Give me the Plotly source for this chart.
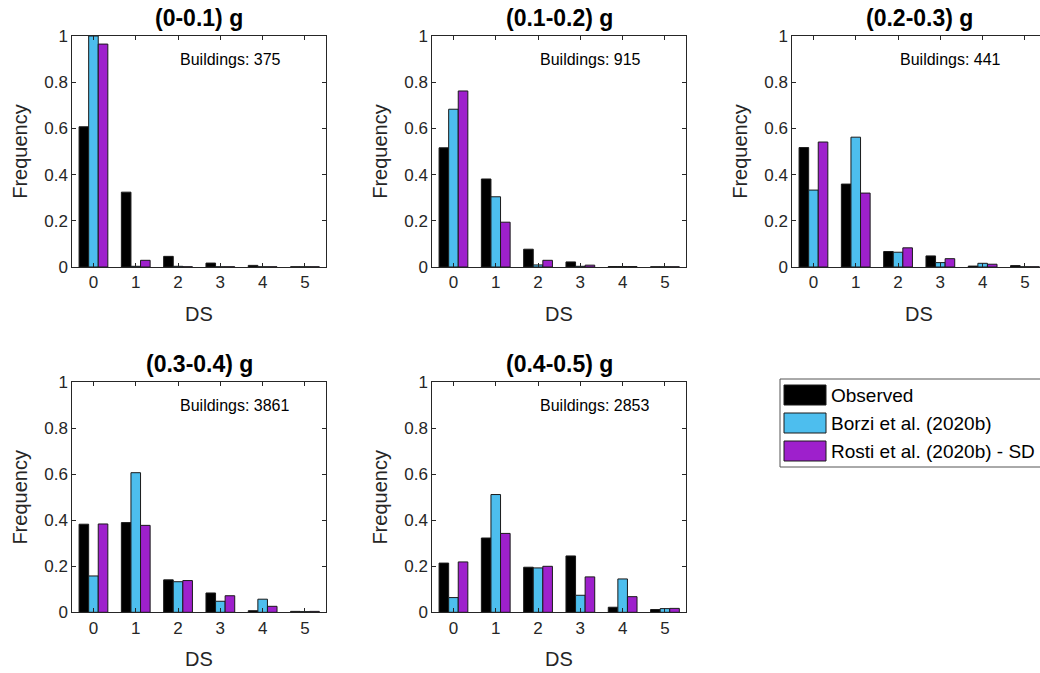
import plotly.graph_objects as go

# ---------------- data ----------------
ds_levels = [0, 1, 2, 3, 4, 5]
series_names = ["Observed", "Borzi et al. (2020b)", "Rosti et al. (2020b) - SD"]
series_colors = ["#000000", "#4DBEEE", "#9E20CC"]
panel_titles = ["(0-0.1) g", "(0.1-0.2) g", "(0.2-0.3) g", "(0.3-0.4) g", "(0.4-0.5) g"]
building_counts = [375, 915, 441, 3861, 2853]
y_ticks = [0, 0.2, 0.4, 0.6, 0.8, 1]
y_tick_labels = ["0", "0.2", "0.4", "0.6", "0.8", "1"]

observed = [
    [0.607, 0.324, 0.046, 0.017, 0.007, 0.001],
    [0.516, 0.381, 0.077, 0.022, 0.002, 0.001],
    [0.517, 0.359, 0.067, 0.048, 0.004, 0.006],
    [0.383, 0.390, 0.141, 0.084, 0.007, 0.004],
    [0.214, 0.323, 0.196, 0.245, 0.022, 0.012],
]
borzi = [
    [1.000, 0.003, 0.003, 0.001, 0.001, 0.001],
    [0.683, 0.304, 0.009, 0.003, 0.002, 0.001],
    [0.333, 0.562, 0.064, 0.019, 0.016, 0.001],
    [0.158, 0.607, 0.133, 0.048, 0.057, 0.003],
    [0.064, 0.512, 0.193, 0.074, 0.145, 0.016],
]
rosti = [
    [0.965, 0.029, 0.001, 0.001, 0.001, 0.001],
    [0.762, 0.194, 0.029, 0.008, 0.002, 0.001],
    [0.541, 0.320, 0.083, 0.036, 0.012, 0.001],
    [0.384, 0.378, 0.138, 0.072, 0.026, 0.004],
    [0.219, 0.343, 0.200, 0.154, 0.068, 0.017],
]
series_values = [observed, borzi, rosti]

# ---------------- layout geometry (pixels) ----------------
W, H = 1040, 673
PX_PER_UNIT = 42.3
AX_W = 6 * PX_PER_UNIT
col_left = [72.3, 432.3, 792.3]
row_top = [36.0, 382.3]
row_bot = [267.0, 612.3]
panel_pos = [(0, 0), (0, 1), (0, 2), (1, 0), (1, 1)]

FONT = "Liberation Sans, Arial, Helvetica, sans-serif"
AX_COLOR = "#262626"


def px(x):
    return x / W


def py(y):
    return 1 - y / H


fig = go.Figure()
layout_axes = {}
annotations = []
shapes = []

for i, (r, c) in enumerate(panel_pos):
    k = "" if i == 0 else str(i + 1)
    L = col_left[c]
    R = min(L + AX_W, W)
    for s in range(3):
        fig.add_trace(go.Bar(
            x=ds_levels, y=series_values[s][i], name=series_names[s],
            marker=dict(color=series_colors[s], line=dict(color="#1a1a1a", width=1)),
            xaxis="x" + k, yaxis="y" + k, showlegend=False,
        ))
    visible_right = (L + AX_W) <= W
    layout_axes["xaxis" + k] = dict(
        domain=[px(L), px(R)], anchor="y" + k, automargin=False,
        range=[-0.5, -0.5 + (R - L) / PX_PER_UNIT],
        tickvals=ds_levels, ticktext=[str(v) for v in ds_levels],
        ticks="inside", ticklen=4, tickcolor=AX_COLOR,
        showline=True, linecolor=AX_COLOR, linewidth=1, mirror="ticks",
        showgrid=False, zeroline=False, fixedrange=True,
        tickfont=dict(family=FONT, size=17, color=AX_COLOR),
    )
    layout_axes["yaxis" + k] = dict(
        domain=[py(row_bot[r]), py(row_top[r])], anchor="x" + k, automargin=False,
        range=[0, 1], tickvals=y_ticks, ticktext=y_tick_labels,
        ticks="inside", ticklen=4, tickcolor=AX_COLOR,
        showline=True, linecolor=AX_COLOR, linewidth=1,
        mirror="ticks" if visible_right else False,
        showgrid=False, zeroline=False, fixedrange=True,
        tickfont=dict(family=FONT, size=17, color=AX_COLOR),
    )
    cx = (L + L + AX_W) / 2
    # panel title
    annotations.append(dict(
        text="<b>" + panel_titles[i] + "</b>", xref="paper", yref="paper",
        x=px(cx), y=py(row_top[r] - 18), xanchor="center", yanchor="middle",
        showarrow=False, font=dict(family=FONT, size=23, color="#000000"),
    ))
    # x label
    annotations.append(dict(
        text="DS", xref="paper", yref="paper",
        x=px(cx), y=py(row_bot[r] + 47), xanchor="center", yanchor="middle",
        showarrow=False, font=dict(family=FONT, size=20, color=AX_COLOR),
    ))
    # y label
    annotations.append(dict(
        text="Frequency", xref="paper", yref="paper", textangle=-90,
        x=px(L - 52), y=py((row_top[r] + row_bot[r]) / 2), xanchor="center", yanchor="middle",
        showarrow=False, font=dict(family=FONT, size=20, color=AX_COLOR),
    ))
    # buildings count
    annotations.append(dict(
        text="Buildings: %d" % building_counts[i], xref="x" + k, yref="y" + k,
        x=2, y=0.9, xanchor="left", yanchor="middle",
        showarrow=False, font=dict(family=FONT, size=16, color="#000000"),
    ))

# ---------------- legend (drawn) ----------------
leg_l, leg_t, leg_r, leg_b = 780, 379, 1046, 467
shapes.append(dict(type="rect", xref="paper", yref="paper",
                   x0=px(leg_l), x1=px(leg_r), y0=py(leg_b), y1=py(leg_t),
                   line=dict(color="#555555", width=1), fillcolor="white", layer="below"))
sw_tops = [385, 413, 441]
for s in range(3):
    t = sw_tops[s]
    shapes.append(dict(type="rect", xref="paper", yref="paper",
                       x0=px(784), x1=px(826), y0=py(t + 20), y1=py(t),
                       line=dict(color="#1a1a1a", width=1), fillcolor=series_colors[s]))
    annotations.append(dict(
        text=series_names[s], xref="paper", yref="paper",
        x=px(829), y=py(t + 10.5), xanchor="left", yanchor="middle",
        showarrow=False, font=dict(family=FONT, size=19, color="#000000"),
    ))

fig.update_layout(
    width=W, height=H, margin=dict(l=0, r=0, t=0, b=0),
    paper_bgcolor="white", plot_bgcolor="white",
    barmode="group", bargap=0.32, bargroupgap=0,
    annotations=annotations, shapes=shapes,
    **layout_axes,
)

fig.write_html("out.html")
